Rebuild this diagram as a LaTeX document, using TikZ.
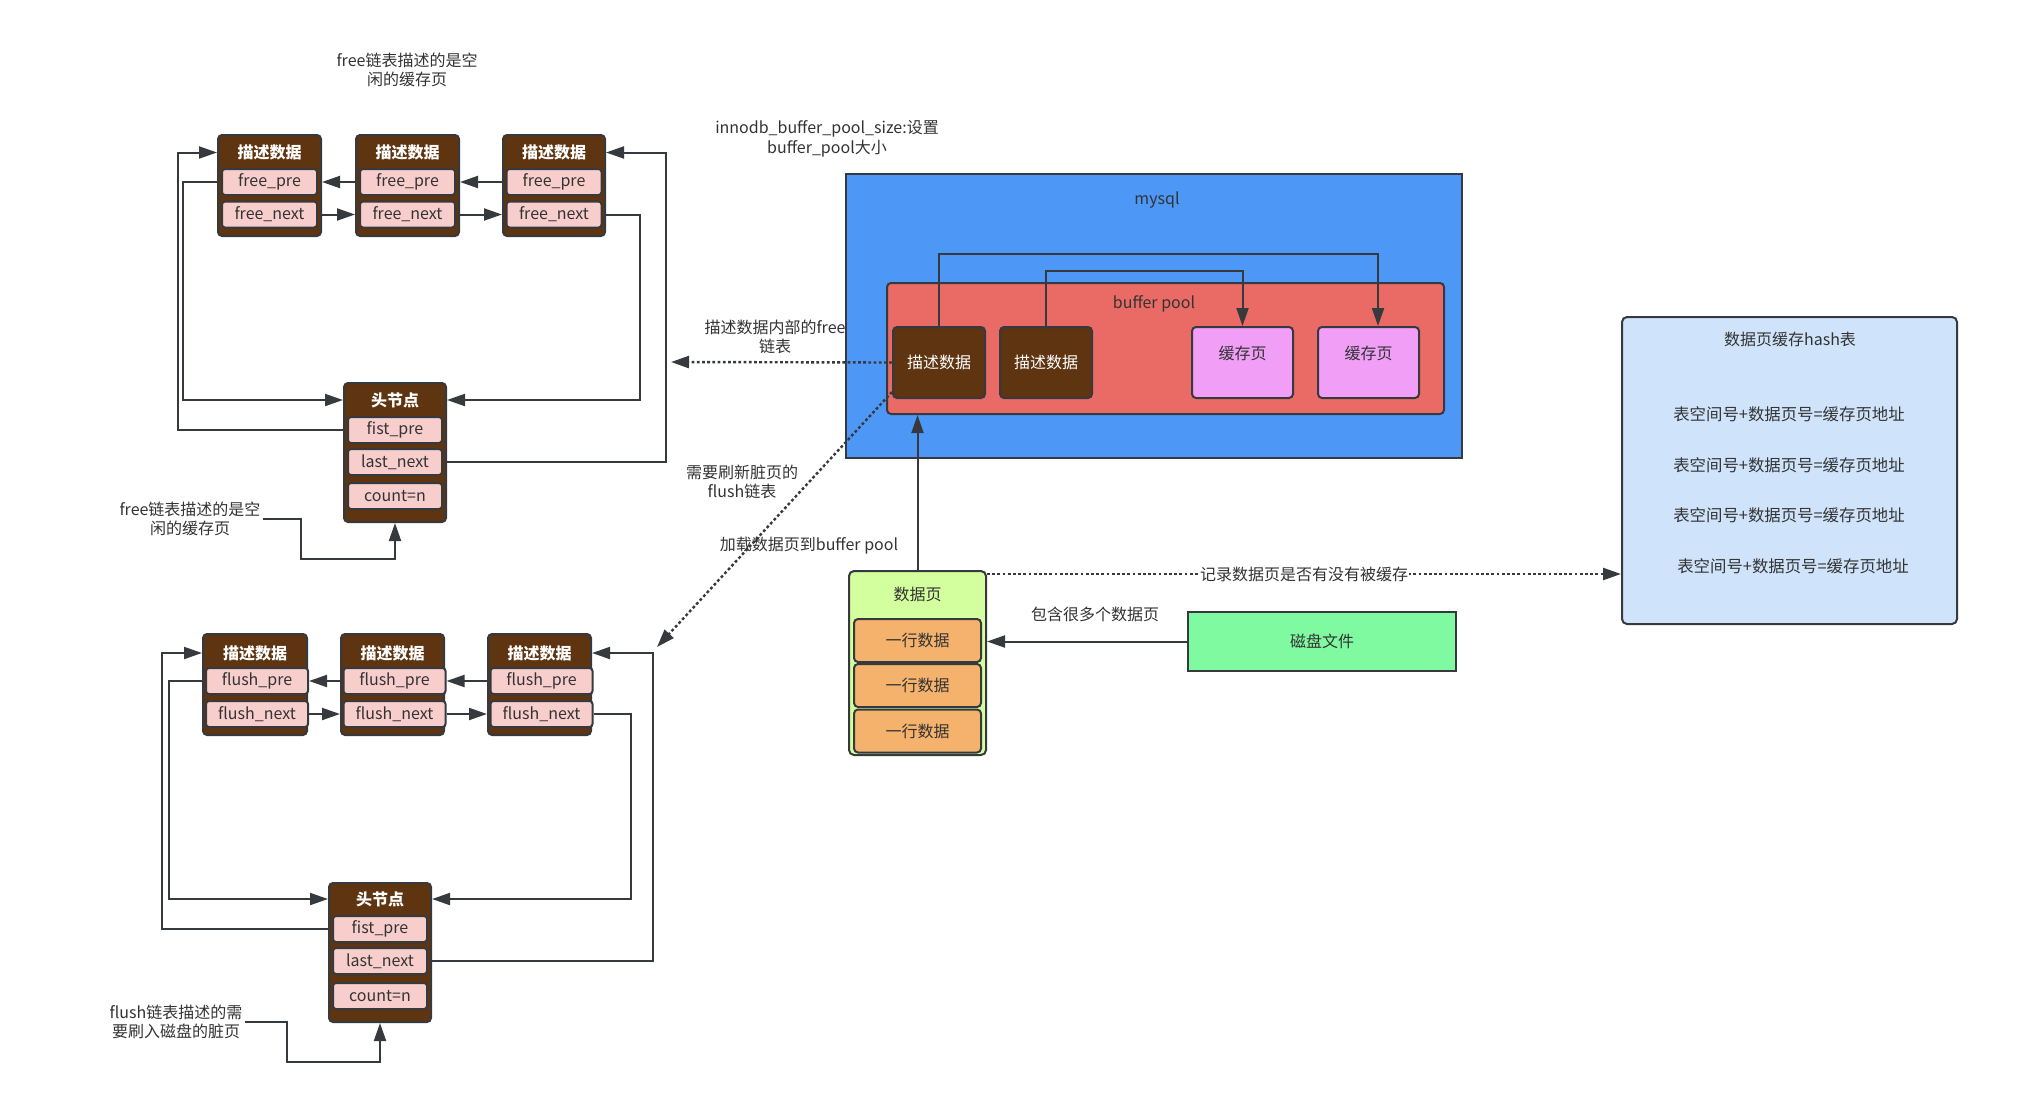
\documentclass[tikz,border=0pt]{standalone}
\usepackage{fontspec}
\setmainfont{Noto Sans CJK SC}
\usetikzlibrary{arrows.meta}
\definecolor{brownD}{RGB}{94,52,17}
\definecolor{rowpink}{RGB}{248,206,204}
\definecolor{edge}{RGB}{54,57,61}
\definecolor{txt}{RGB}{51,51,51}
\definecolor{mysqlblue}{RGB}{77,152,246}
\definecolor{bpred}{RGB}{234,107,102}
\definecolor{cachepink}{RGB}{241,158,247}
\definecolor{dpgreen}{RGB}{212,255,158}
\definecolor{roworange}{RGB}{244,178,108}
\definecolor{diskgreen}{RGB}{127,250,160}
\definecolor{hashblue}{RGB}{207,228,251}
\newcommand\myfs{\fontsize{8}{9.8}\selectfont}
\newcommand\myfsb{\fontsize{8.2}{10}\selectfont}
\begin{document}
\begin{tikzpicture}[x=0.5pt,y=-0.5pt,
  txtn/.style={text=txt, font=\myfs, align=center, inner sep=1pt},
  blk/.style={draw=edge, line width=1pt, fill=brownD, rounded corners=2pt, inner sep=0pt},
  hdr/.style={text=white, font=\myfs\bfseries, inner sep=0pt},
  row/.style={draw=edge, line width=1pt, fill=rowpink, rounded corners=1.5pt, inner sep=0pt, text=txt, font=\myfs, minimum height=13pt},
  arr/.style={draw=edge, line width=1pt, -{Triangle[length=9pt,width=6pt]}},
  dotarr/.style={arr, line width=1.2pt, dash pattern=on 1.4pt off 1.2pt},
  plainbox/.style={draw=edge, line width=1pt, inner sep=0pt, text=txt, font=\myfs}
]
\fill[white] (0,0) rectangle (2022,1098);
\useasboundingbox (0,0) rectangle (2022,1098);

% ---------------- free list ----------------
\node[txtn] (T1) at (407,70) {free链表描述的是空\\闲的缓存页};

\node[blk, minimum width=51.5pt, minimum height=50.5pt] (B1) at (269.5,185.5) {};
\node[hdr] (B1h) at (269.5,152.5) {描述数据};
\node[row, minimum width=47.5pt] (B1p) at (269.5,182) {free\_pre};
\node[row, minimum width=47.5pt] (B1n) at (269.5,214.5) {free\_next};

\node[blk, minimum width=51.5pt, minimum height=50.5pt] (B2) at (407.5,185.5) {};
\node[hdr] (B2h) at (407.5,152.5) {描述数据};
\node[row, minimum width=47.5pt] (B2p) at (407.5,182) {free\_pre};
\node[row, minimum width=47.5pt] (B2n) at (407.5,214.5) {free\_next};

\node[blk, minimum width=51pt, minimum height=50.5pt] (B3) at (554,185.5) {};
\node[hdr] (B3h) at (554,152.5) {描述数据};
\node[row, minimum width=47.5pt] (B3p) at (554,182) {free\_pre};
\node[row, minimum width=47.5pt] (B3n) at (554,214.5) {free\_next};

\node[blk, minimum width=51pt, minimum height=69.5pt] (H) at (395,452.5) {};
\node[hdr] (Hh) at (395,400) {头节点};
\node[row, minimum width=47pt] (Hp) at (395,430) {fist\_pre};
\node[row, minimum width=47pt] (Hn) at (395,462) {last\_next};
\node[row, minimum width=47pt] (Hc) at (395,496) {count=n};

\draw[arr] (B2.west |- B2p) -- (B1.east |- B1p);
\draw[arr] (B3.west |- B3p) -- (B2.east |- B2p);
\draw[arr] (B1.east |- B1n) -- (B2.west |- B2n);
\draw[arr] (B2.east |- B2n) -- (B3.west |- B3n);
\draw[arr] (B1.west |- B1p) -| (183.4,0 |- Hh) -- (H.west |- Hh);
\draw[arr] (H.west |- Hp) -| (177.7,0 |- B1h) -- (B1.west |- B1h);
\draw[arr] (B3.east |- B3n) -| (639.6,0 |- Hh) -- (H.east |- Hh);
\draw[arr] (H.east |- Hn) -| (666.4,0 |- B3h) -- (B3.east |- B3h);

\node[txtn] (ann1) at (190,519) {free链表描述的是空\\闲的缓存页};
\draw[arr] (ann1.east) -| (301,559) -| (H.south);

% ---------------- flush list ----------------
\node[blk, minimum width=52pt, minimum height=50.5pt] (F1) at (255,684.5) {};
\node[hdr] (F1h) at (255,653) {描述数据};
\node[row, minimum width=51pt] (F1p) at (257,681) {flush\_pre};
\node[row, minimum width=51pt] (F1n) at (257,714) {flush\_next};

\node[blk, minimum width=51.5pt, minimum height=50.5pt] (F2) at (392.5,684.5) {};
\node[hdr] (F2h) at (392.5,653) {描述数据};
\node[row, minimum width=51pt] (F2p) at (394.5,681) {flush\_pre};
\node[row, minimum width=51pt] (F2n) at (394.5,714) {flush\_next};

\node[blk, minimum width=51.5pt, minimum height=50.5pt] (F3) at (539.5,684.5) {};
\node[hdr] (F3h) at (539.5,653) {描述数据};
\node[row, minimum width=51pt] (F3p) at (541.5,681) {flush\_pre};
\node[row, minimum width=51pt] (F3n) at (541.5,714) {flush\_next};

\node[blk, minimum width=51pt, minimum height=69.5pt] (FH) at (380,952.5) {};
\node[hdr] (FHh) at (380,899) {头节点};
\node[row, minimum width=47pt] (FHp) at (380,929) {fist\_pre};
\node[row, minimum width=47pt] (FHn) at (380,961) {last\_next};
\node[row, minimum width=47pt] (FHc) at (380,996) {count=n};

\draw[arr] (F2.west |- F2p) -- (F1p.east);
\draw[arr] (F3.west |- F3p) -- (F2p.east);
\draw[arr] (F1n.east) -- (F2.west |- F2n);
\draw[arr] (F2n.east) -- (F3.west |- F3n);
\draw[arr] (F1.west |- F1p) -| (169,0 |- FHh) -- (FH.west |- FHh);
\draw[arr] (FH.west |- FHp) -| (162,0 |- F1h) -- (F1.west |- F1h);
\draw[arr] (F3n.east) -| (631,0 |- FHh) -- (FH.east |- FHh);
\draw[arr] (FH.east |- FHn) -| (652.5,0 |- F3h) -- (F3.east |- F3h);

\node[txtn] (ann2) at (176,1022) {flush链表描述的需\\要刷入磁盘的脏页};
\draw[arr] (ann2.east) -| (287,1062) -| (FH.south);

% ---------------- mysql / buffer pool ----------------
\node[txtn] (sz) at (827,139) {innodb\_buffer\_pool\_size:设置\\buffer\_pool大小};

\node[plainbox, fill=mysqlblue, minimum width=308pt, minimum height=142pt] (MY) at (1154,316) {};
\node[txtn] (MYt) at (1157,200) {mysql};
\node[plainbox, fill=bpred, rounded corners=2pt, minimum width=278.5pt, minimum height=65.5pt] (BP) at (1165.5,348.5) {};
\node[txtn] (BPt) at (1154,304) {buffer pool};

\node[plainbox, fill=brownD, rounded corners=2pt, minimum width=46pt, minimum height=35.5pt, text=white] (D1) at (939,362.5) {描述数据};
\node[plainbox, fill=brownD, rounded corners=2pt, minimum width=46pt, minimum height=35.5pt, text=white] (D2) at (1046,362.5) {描述数据};
\node[plainbox, fill=cachepink, rounded corners=2pt, minimum width=50.5pt, minimum height=35.5pt] (C1) at (1242.5,362.5) {};
\node[txtn] (C1t) at (1242.5,353) {缓存页};
\node[plainbox, fill=cachepink, rounded corners=2pt, minimum width=50.5pt, minimum height=35.5pt] (C2) at (1368.5,362.5) {};
\node[txtn] (C2t) at (1368.5,353) {缓存页};

\draw[arr] (D1.north) |- (1378,254) -- (C2.north -| 1378,0);
\draw[arr] (D2.north) |- (C1.north |- 0,271) -- (C1.north);

\node[txtn] (frt) at (775,337) {描述数据内部的free\\链表};
\coordinate (freeptr) at (671,362);
\draw[dotarr] (D1.west) -- (freeptr);

\node[txtn] (flt) at (742,482) {需要刷新脏页的\\flush链表};
\coordinate (flushptr) at (657,647);
\draw[dotarr] ([yshift=3.5pt]D1.south west) -- (flushptr);

% ---------------- data page / disk ----------------
\node[plainbox, fill=dpgreen, rounded corners=2.5pt, minimum width=68.5pt, minimum height=92pt] (DP) at (917.5,663) {};
\node[txtn] (DPt) at (917.5,594) {数据页};
\node[plainbox, fill=roworange, rounded corners=2pt, minimum width=63.5pt, minimum height=21.5pt] (R1) at (917.5,640.5) {一行数据};
\node[plainbox, fill=roworange, rounded corners=2pt, minimum width=63.5pt, minimum height=21.5pt] (R2) at (917.5,685.5) {一行数据};
\node[plainbox, fill=roworange, rounded corners=2pt, minimum width=63.5pt, minimum height=21.5pt] (R3) at (917.5,731) {一行数据};

\draw[arr] (DP.north) -- (DP.north |- BP.south);
\node[txtn] (ldt) at (809,546) {加载数据页到buffer pool};

\node[plainbox, fill=diskgreen, minimum width=134pt, minimum height=29.5pt] (DF) at (1322,641.5) {磁盘文件};
\draw[arr] (DF.west) -- (DF.west -| DP.east);
\node[txtn] (cnt) at (1095,614) {包含很多个数据页};

% ---------------- hash table ----------------
\node[plainbox, fill=hashblue, rounded corners=2.5pt, minimum width=167.5pt, minimum height=153.5pt] (HT) at (1789.5,470.5) {};
\node[txtn] (HTt) at (1790,339) {数据页缓存hash表};
\node[txtn, font=\myfsb] (HT1) at (1789,414) {表空间号+数据页号=缓存页地址};
\node[txtn, font=\myfsb] (HT2) at (1789,465) {表空间号+数据页号=缓存页地址};
\node[txtn, font=\myfsb] (HT3) at (1789,515) {表空间号+数据页号=缓存页地址};
\node[txtn, font=\myfsb] (HT4) at (1793,566) {表空间号+数据页号=缓存页地址};

\coordinate (recA) at ([yshift=-2pt]DP.north east);
\draw[dotarr] (recA) -- node[txtn, fill=white, inner sep=0.5pt] (rect) {记录数据页是否有没有被缓存} (recA -| HT.west);
\end{tikzpicture}
\end{document}
